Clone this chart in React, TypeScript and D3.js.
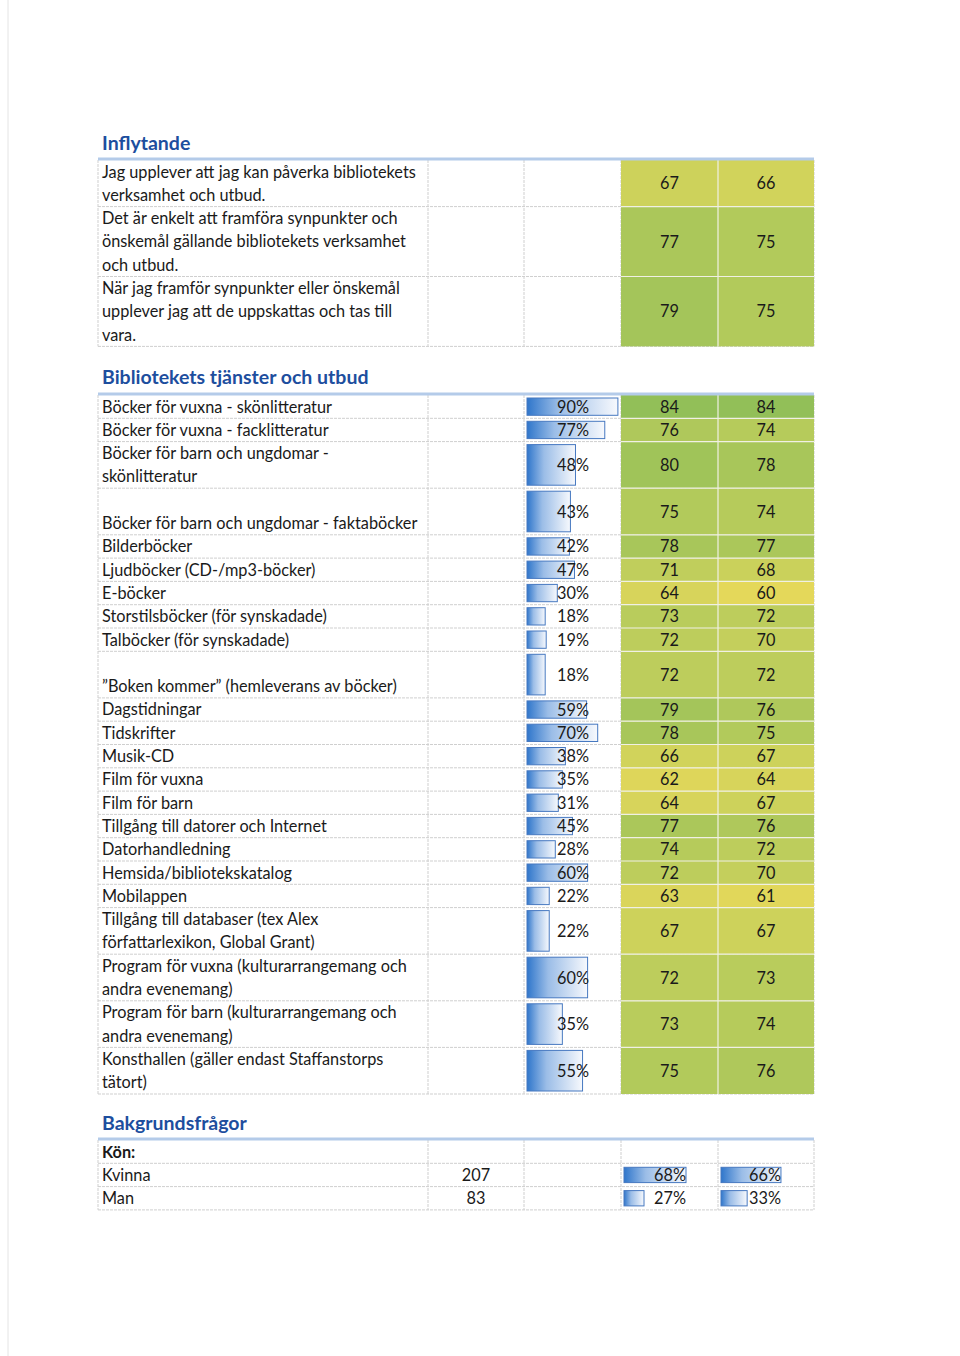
import React from "react";
import * as d3 from "d3";

// ---------- DATA ----------
const inflytandeLabels: string[][] = [
  ["Jag upplever att jag kan påverka bibliotekets", "verksamhet och utbud."],
  ["Det är enkelt att framföra synpunkter och", "önskemål gällande bibliotekets verksamhet", "och utbud."],
  ["När jag framför synpunkter eller önskemål", "upplever jag att de uppskattas och tas till", "vara."],
];
const inflytandeIndexA: number[] = [67, 77, 79];
const inflytandeIndexB: number[] = [66, 75, 75];

const tjansterLabels: string[][] = [
  ["Böcker för vuxna - skönlitteratur"],
  ["Böcker för vuxna - facklitteratur"],
  ["Böcker för barn och ungdomar -", "skönlitteratur"],
  ["", "Böcker för barn och ungdomar - faktaböcker"],
  ["Bilderböcker"],
  ["Ljudböcker (CD-/mp3-böcker)"],
  ["E-böcker"],
  ["Storstilsböcker (för synskadade)"],
  ["Talböcker (för synskadade)"],
  ["", "\u201DBoken kommer\u201D (hemleverans av böcker)"],
  ["Dagstidningar"],
  ["Tidskrifter"],
  ["Musik-CD"],
  ["Film för vuxna"],
  ["Film för barn"],
  ["Tillgång till datorer och Internet"],
  ["Datorhandledning"],
  ["Hemsida/bibliotekskatalog"],
  ["Mobilappen"],
  ["Tillgång till databaser (tex Alex", "författarlexikon, Global Grant)"],
  ["Program för vuxna (kulturarrangemang och", "andra evenemang)"],
  ["Program för barn (kulturarrangemang och", "andra evenemang)"],
  ["Konsthallen (gäller endast Staffanstorps", "tätort)"],
];
const tjansterUsage: number[] = [90, 77, 48, 43, 42, 47, 30, 18, 19, 18, 59, 70, 38, 35, 31, 45, 28, 60, 22, 22, 60, 35, 55];
const tjansterIndexA: number[] = [84, 76, 80, 75, 78, 71, 64, 73, 72, 72, 79, 78, 66, 62, 64, 77, 74, 72, 63, 67, 72, 73, 75];
const tjansterIndexB: number[] = [84, 74, 78, 74, 77, 68, 60, 72, 70, 72, 76, 75, 67, 64, 67, 76, 72, 70, 61, 67, 73, 74, 76];

const bakgrundLabels: string[] = ["Kön:", "Kvinna", "Man"];
const bakgrundCount: (number | null)[] = [null, 207, 83];
const bakgrundShareA: (number | null)[] = [null, 68, 27];
const bakgrundShareB: (number | null)[] = [null, 66, 33];

const sectionTitles: string[] = ["Inflytande", "Bibliotekets tjänster och utbud", "Bakgrundsfrågor"];

// ---------- LAYOUT ----------
const W = 960;
const H = 1356;
const LH = 23.3;
const colX = [98, 428, 524, 621, 718, 814];
const FONT = "Lato, 'Open Sans', sans-serif";
const FS = 16.3;

const colorScale = d3
  .scaleLinear<string>()
  .domain([60, 72, 84])
  .range(["#e4d85a", "#bdcd5c", "#92bf58"])
  .interpolate(d3.interpolateRgb)
  .clamp(true);

const usageScale = d3.scaleLinear().domain([0, 100]).range([0, 101]);

type Row = { lines: string[]; y: number; h: number };

function buildRows(labels: string[][], top: number): Row[] {
  const rows: Row[] = [];
  let y = top;
  labels.forEach((l) => {
    const h = l.length * LH;
    rows.push({ lines: l, y, h });
    y += h;
  });
  return rows;
}

const GridLines: React.FC<{ top: number; bottom: number; rowYs: number[] }> = ({ top, bottom, rowYs }) => (
  <g>
    {rowYs.map((y, i) => (
      <line key={"h" + i} x1={colX[0]} x2={colX[5]} y1={y} y2={y} stroke="#cfcfcf" strokeWidth={1} strokeDasharray="3,1" />
    ))}
    {colX.map((x, i) => (
      <line key={"v" + i} x1={x} x2={x} y1={top} y2={bottom} stroke="#cfcfcf" strokeWidth={1} strokeDasharray="3,1" />
    ))}
  </g>
);

const Header: React.FC<{ title: string; baseline: number; lineY: number }> = ({ title, baseline, lineY }) => (
  <g>
    <text x={102} y={baseline} fontFamily={FONT} fontWeight={700} fontSize={19.5} fill="#1d4e9e">
      {title}
    </text>
    <rect x={colX[0]} y={lineY - 1.5} width={colX[5] - colX[0]} height={3} fill="#b4cbe9" />
  </g>
);

const Bar: React.FC<{ x: number; y: number; w: number; h: number; id: string }> = ({ x, y, w, h, id }) => (
  <rect x={x} y={y} width={w} height={h} fill={`url(#${id})`} stroke="#4678c0" strokeWidth={1} />
);

const ColoredCells: React.FC<{ rows: Row[]; a: number[]; b: number[] }> = ({ rows, a, b }) => (
  <g>
    {rows.map((r, i) => (
      <g key={i}>
        <rect x={colX[3]} y={r.y} width={colX[4] - colX[3]} height={r.h} fill={colorScale(a[i])} />
        <rect x={colX[4]} y={r.y} width={colX[5] - colX[4]} height={r.h} fill={colorScale(b[i])} />
        <text x={(colX[3] + colX[4]) / 2} y={r.y + r.h / 2 + 6} textAnchor="middle" fontFamily={FONT} fontSize={FS} fill="#1a1a1a">
          {a[i]}
        </text>
        <text x={(colX[4] + colX[5]) / 2} y={r.y + r.h / 2 + 6} textAnchor="middle" fontFamily={FONT} fontSize={FS} fill="#1a1a1a">
          {b[i]}
        </text>
      </g>
    ))}
    {rows.slice(1).map((r, i) => (
      <line key={"w" + i} x1={colX[3]} x2={colX[5]} y1={r.y} y2={r.y} stroke="#f0f0e4" strokeWidth={1.2} />
    ))}
    <line x1={colX[4]} x2={colX[4]} y1={rows[0].y} y2={rows[rows.length - 1].y + rows[rows.length - 1].h} stroke="#f0f0e4" strokeWidth={1.2} />
  </g>
);

const Labels: React.FC<{ rows: Row[] }> = ({ rows }) => (
  <g>
    {rows.map((r, i) =>
      r.lines.map((ln, j) => (
        <text key={i + "-" + j} x={102} y={r.y + 17.5 + j * LH} fontFamily={FONT} fontSize={FS} fill="#1a1a1a">
          {ln}
        </text>
      ))
    )}
  </g>
);

export default function App() {
  const s1Top = 160;
  const rows1 = buildRows(inflytandeLabels, s1Top);
  const s1Bottom = rows1[rows1.length - 1].y + rows1[rows1.length - 1].h;

  const s2Top = 395;
  const rows2 = buildRows(tjansterLabels, s2Top);
  const s2Bottom = rows2[rows2.length - 1].y + rows2[rows2.length - 1].h;

  const s3Top = 1140;
  const rows3 = buildRows(bakgrundLabels.map((l) => [l]), s3Top);
  const s3Bottom = rows3[rows3.length - 1].y + rows3[rows3.length - 1].h;

  const shareVals = [...bakgrundShareA, ...bakgrundShareB].filter((v) => v != null) as number[];
  const shareScale = d3.scaleLinear().domain(d3.extent(shareVals) as [number, number]).range([20, 62]);

  return (
    <svg width={W} height={H} viewBox={`0 0 ${W} ${H}`} style={{ position: "absolute", left: 0, top: 0, background: "#ffffff" }}>
      <defs>
        <linearGradient id="barGrad" x1="0" x2="1" y1="0" y2="0">
          <stop offset="0%" stopColor="#2f76cb" />
          <stop offset="35%" stopColor="#9bbde7" />
          <stop offset="100%" stopColor="#f7f9fd" />
        </linearGradient>
      </defs>
      <rect x={0} y={0} width={W} height={H} fill="#ffffff" />
      <line x1={8} x2={8} y1={0} y2={H} stroke="#e4e4e4" strokeWidth={1} />

      {/* Section 1 */}
      <GridLines top={s1Top} bottom={s1Bottom} rowYs={[...rows1.slice(1).map((r) => r.y), s1Bottom]} />
      <ColoredCells rows={rows1} a={inflytandeIndexA} b={inflytandeIndexB} />
      <Labels rows={rows1} />
      <Header title={sectionTitles[0]} baseline={150} lineY={159} />

      {/* Section 2 */}
      <GridLines top={s2Top} bottom={s2Bottom} rowYs={[...rows2.slice(1).map((r) => r.y), s2Bottom]} />
      <ColoredCells rows={rows2} a={tjansterIndexA} b={tjansterIndexB} />
      <Labels rows={rows2} />
      {rows2.map((r, i) => (
        <g key={"u" + i}>
          <Bar x={colX[2] + 3} y={r.y + 3} w={usageScale(tjansterUsage[i])} h={r.h - 6} id="barGrad" />
          <text x={589} y={r.y + r.h / 2 + 6} textAnchor="end" fontFamily={FONT} fontSize={FS} fill="#1a1a1a">
            {tjansterUsage[i]}%
          </text>
        </g>
      ))}
      <Header title={sectionTitles[1]} baseline={384} lineY={394} />

      {/* Section 3 */}
      <GridLines top={s3Top} bottom={s3Bottom} rowYs={[...rows3.slice(1).map((r) => r.y), s3Bottom]} />
      {rows3.map((r, i) => (
        <g key={"b" + i}>
          <text x={102} y={r.y + 17.5} fontFamily={FONT} fontSize={FS} fontWeight={i === 0 ? 700 : 400} fill="#1a1a1a">
            {bakgrundLabels[i]}
          </text>
          {bakgrundCount[i] != null && (
            <text x={(colX[1] + colX[2]) / 2} y={r.y + 17.5} textAnchor="middle" fontFamily={FONT} fontSize={FS} fill="#1a1a1a">
              {bakgrundCount[i]}
            </text>
          )}
          {bakgrundShareA[i] != null && (
            <g>
              <Bar x={colX[3] + 3} y={r.y + 4} w={shareScale(bakgrundShareA[i] as number)} h={r.h - 8} id="barGrad" />
              <text x={686} y={r.y + 17.5} textAnchor="end" fontFamily={FONT} fontSize={FS} fill="#1a1a1a">
                {bakgrundShareA[i]}%
              </text>
            </g>
          )}
          {bakgrundShareB[i] != null && (
            <g>
              <Bar x={colX[4] + 3} y={r.y + 4} w={shareScale(bakgrundShareB[i] as number)} h={r.h - 8} id="barGrad" />
              <text x={781} y={r.y + 17.5} textAnchor="end" fontFamily={FONT} fontSize={FS} fill="#1a1a1a">
                {bakgrundShareB[i]}%
              </text>
            </g>
          )}
        </g>
      ))}
      <Header title={sectionTitles[2]} baseline={1130} lineY={1139} />
    </svg>
  );
}
